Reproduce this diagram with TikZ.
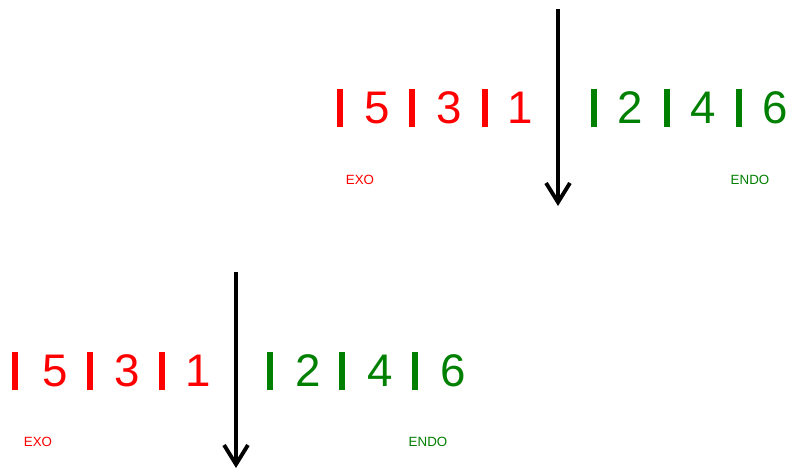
\documentclass[tikz,border=0pt]{standalone}
\usepackage{fontspec}
\setmainfont{Liberation Sans}
\usetikzlibrary{arrows.meta,positioning}
\definecolor{exored}{RGB}{255,0,0}
\definecolor{endogreen}{RGB}{0,128,0}
\tikzset{
  sepbar/.style={fill=#1, inner sep=0pt, minimum width=3.4pt, minimum height=21.8pt},
  digit/.style={text=#1, font=\fontsize{26}{26}\selectfont, inner sep=0pt},
  tag/.style={text=#1, font=\fontsize{7.6}{8}\selectfont, inner sep=0pt},
  cut/.style={line width=2.2pt, -{Straight Barb[length=11pt,width=13.6pt]}}
}
\begin{document}
\begin{tikzpicture}[x=0.02cm, y=-0.02cm]
  \clip (0,0) rectangle (793,470);

  % upper row
  \foreach \x/\n in {340/a, 412/b, 485/c}
    \node[sepbar=exored] (up\n) at (\x, 108) {};
  \foreach \x/\n in {594/d, 667/e, 739/f}
    \node[sepbar=endogreen] (up\n) at (\x, 108) {};
  \node[digit=exored] (up5) at (377, 108) {5};
  \node[digit=exored] (up3) at (449, 108) {3};
  \node[digit=exored] (up1) at (520, 108) {1};
  \node[digit=endogreen] (up2) at (630, 108) {2};
  \node[digit=endogreen] (up4) at (703, 108) {4};
  \node[digit=endogreen] (up6) at (775, 108) {6};
  \node[tag=exored] (upexo) at (360, 180) {EXO};
  \node[tag=endogreen] (upendo) at (750, 180) {ENDO};
  \coordinate (upstart) at (558, 9);
  \coordinate (upend) at (558, 206);
  \draw[cut] (upstart) -- (upend);

  % lower row
  \foreach \x/\n in {15/a, 90/b, 162/c}
    \node[sepbar=exored] (lo\n) at (\x, 371) {};
  \foreach \x/\n in {270/d, 342/e, 415/f}
    \node[sepbar=endogreen] (lo\n) at (\x, 371) {};
  \node[digit=exored] (lo5) at (55, 371) {5};
  \node[digit=exored] (lo3) at (127, 371) {3};
  \node[digit=exored] (lo1) at (198, 371) {1};
  \node[digit=endogreen] (lo2) at (308, 371) {2};
  \node[digit=endogreen] (lo4) at (380, 371) {4};
  \node[digit=endogreen] (lo6) at (453, 371) {6};
  \node[tag=exored] (loexo) at (38, 442) {EXO};
  \node[tag=endogreen] (loendo) at (428, 442) {ENDO};
  \coordinate (lostart) at (236, 272);
  \coordinate (loend) at (236, 468);
  \draw[cut] (lostart) -- (loend);
\end{tikzpicture}
\end{document}
